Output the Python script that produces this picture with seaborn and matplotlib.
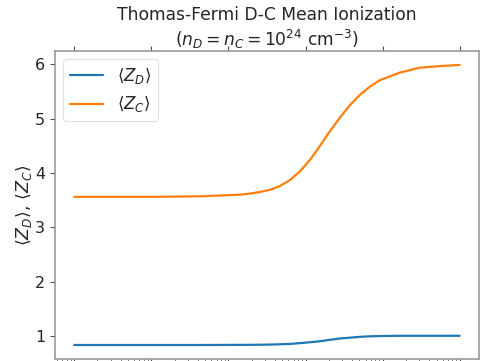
import numpy as np
import pandas as pd
import matplotlib
matplotlib.use("Agg")
import matplotlib.pyplot as plt
import seaborn as sns

# Temperature grid (log scale, arbitrary units; tick labels are cropped in reference)
T = [1, 9.6, 42.9, 141, 190, 257, 346, 466, 628, 846, 1140, 1538, 2071, 2792,
     3760, 5070, 6830, 9200, 16700, 30300, 55100, 100000]
Z_D = [0.83, 0.83, 0.83, 0.832, 0.833, 0.835, 0.838, 0.843, 0.85, 0.865, 0.88, 0.90,
       0.925, 0.95, 0.965, 0.98, 0.99, 0.995, 1.0, 1.0, 1.0, 1.0]
Z_C = [3.56, 3.56, 3.57, 3.60, 3.62, 3.65, 3.69, 3.76, 3.87, 4.03, 4.24, 4.50,
       4.77, 5.02, 5.25, 5.44, 5.59, 5.71, 5.85, 5.94, 5.97, 5.99]
labels = [r"$\langle Z_D\rangle$", r"$\langle Z_C\rangle$"]

df = pd.concat([
    pd.DataFrame({"T": T, "Z": Z_D, "s": labels[0]}),
    pd.DataFrame({"T": T, "Z": Z_C, "s": labels[1]}),
])

sns.set_style("white")
plt.rcParams["font.family"] = ["DejaVu Sans"]
plt.rcParams["mathtext.fontset"] = "dejavusans"

fig = plt.figure(figsize=(4.81, 3.61), dpi=100)
ax = fig.add_axes([55/481, 1-359/361, (479-55)/481, (359-51)/361])

sns.lineplot(data=df, x="T", y="Z", hue="s", palette=["#1f77b4", "#ff7f0e"],
             linewidth=1.6, ax=ax)
ax.set_xscale("log")
ax.set_yticks([1, 2, 3, 4, 5, 6])
ax.set_xlabel("")
ax.set_ylabel(r"$\langle Z_D\rangle$, $\langle Z_C\rangle$", fontsize=12.5, labelpad=1)
ax.set_title("Thomas-Fermi D-C Mean Ionization\n" + r"$(n_D = n_C = 10^{24}$ cm$^{-3})$",
             fontsize=12.3, pad=1.5)

for sp in ax.spines.values():
    sp.set_color("0.6")
    sp.set_linewidth(1.2)
ax.tick_params(axis="both", which="major", direction="out", length=3.5, width=0.8,
               color="0.3", labelsize=11.5, top=True, right=True, bottom=True, left=True)
ax.tick_params(axis="x", which="minor", direction="out", length=2, width=0.6,
               color="0.4", bottom=True, top=False)
ax.tick_params(axis="x", labelbottom=False)

leg = ax.legend(loc="upper left", fontsize=12, frameon=True, fancybox=True,
                edgecolor="0.85", title=None)
leg.get_frame().set_linewidth(0.8)

fig.savefig("out.png", dpi=100)
